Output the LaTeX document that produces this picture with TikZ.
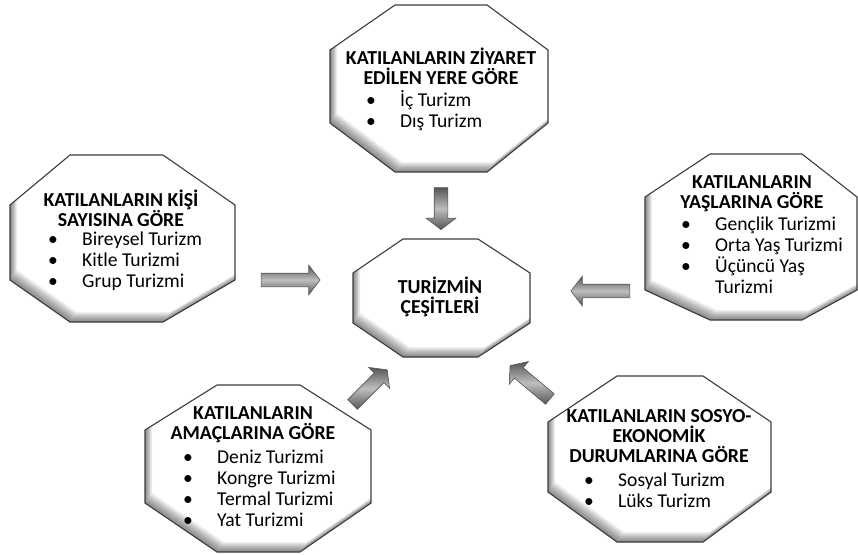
\documentclass[tikz,border=0pt]{standalone}
\usepackage{fontspec}
\setmainfont{Carlito}
\usetikzlibrary{positioning,shapes.arrows}
\definecolor{octEdge}{RGB}{60,60,60}
\definecolor{arrDark}{RGB}{85,85,85}
\definecolor{arrLight}{RGB}{190,190,190}
% octagon outline, shifted right by #1 and up by #2 (for the inner shadow)
\newcommand{\octpath}[2]{(\ota+#1,\oya-#2) -- (\otb+#1,\oya-#2) -- (\oxb+#1,\osa-#2) -- (\oxb+#1,\osb-#2) -- (\otb+#1,\oyb-#2) -- (\ota+#1,\oyb-#2) -- (\oxa+#1,\osb-#2) -- (\oxa+#1,\osa-#2) -- cycle}
\newcommand{\bul}{\makebox[34pt][l]{\textbullet}}

\begin{document}
\begin{tikzpicture}[
  x=1pt,y=-1pt,
  octline/.style={draw=octEdge,line width=1.1pt,line join=miter},
  head/.style={align=center,inner sep=0pt,anchor=base,font=\bfseries\fontsize{19.8}{20}\selectfont},
  items/.style={align=left,inner sep=0pt,anchor=base west,font=\fontsize{19.6}{21}\selectfont},
  blockarrow/.style={single arrow,draw=arrDark,line width=0.6pt,inner sep=6.5pt,minimum width=29pt,
    single arrow head extend=8pt,single arrow tip angle=105,shading=axis,
    top color=arrDark,bottom color=arrDark,middle color=arrLight}
]
  \useasboundingbox (0,0) rectangle (858,554);

  % octagons: x1/x2/y1/y2/top edge from/to/side from/to
  \foreach \oxa/\oxb/\oya/\oyb/\ota/\otb/\osa/\osb in {
      330/548/5/172/395/487/50/123,
      10/235/155/322/70/163/205/280,
      353/530/239/357/403/478/273/323,
      645/857/154/320/710/802/197/290,
      145/371/385/552/217/300/430/503,
      548/771/376/542/617/703/422/492}{
    \fill[white] \octpath{0}{0};
    \begin{scope}
      \clip \octpath{0}{0};
      \foreach \k in {1,...,10}
        \fill[black,opacity=0.055,even odd rule] (\oxa-30,\oya-30) rectangle (\oxb+30,\oyb+30) \octpath{\k*0.7}{\k*1.0};
    \end{scope}
    \draw[octline] \octpath{0}{0};
  }

  % texts (anchor = baseline of the last line)
  \node[head] (ziyaret) at (441,84) {KATILANLARIN ZİYARET\\EDİLEN YERE GÖRE};
  \node[items] (ziyaretL) at (366,127) {\bul İç Turizm\\\bul Dış Turizm};

  \node[head] (kisi) at (121,226) {KATILANLARIN KİŞİ\\SAYISINA GÖRE};
  \node[items] (kisiL) at (48,287) {\bul Bireysel Turizm\\\bul Kitle Turizmi\\\bul Grup Turizmi};

  \node[head] (yas) at (752,208) {KATILANLARIN\\YAŞLARINA GÖRE};
  \node[items] (yasL) at (681,293) {\bul Gençlik Turizmi\\\bul Orta Yaş Turizmi\\\bul Üçüncü Yaş\\\hspace*{34pt}Turizmi};

  \node[head] (tur) at (440,313) {TURİZMİN\\ÇEŞİTLERİ};

  \node[head] (amac) at (253,439) {KATILANLARIN\\AMAÇLARINA GÖRE};
  \node[items] (amacL) at (183,526) {\bul Deniz Turizmi\\\bul Kongre Turizmi\\\bul Termal Turizmi\\\bul Yat Turizmi};

  \node[head] (sosyo) at (659,462) {KATILANLARIN SOSYO-\\EKONOMİK\\DURUMLARINA GÖRE};
  \node[items] (sosyoL) at (584,507) {\bul Sosyal Turizm\\\bul Lüks Turizm};

  % arrows towards the centre
  \node[blockarrow,minimum height=42pt,rotate=-90] (a1) at (441,206) {};
  \node[blockarrow,minimum height=59pt] (a2) at (288,280) {};
  \node[blockarrow,minimum height=59pt,rotate=180] (a3) at (603,291) {};
  \node[blockarrow,minimum height=49pt,rotate=45] (a4) at (368,389) {};
  \node[blockarrow,minimum height=52pt,rotate=140] (a5) at (532,384) {};
\end{tikzpicture}
\end{document}
